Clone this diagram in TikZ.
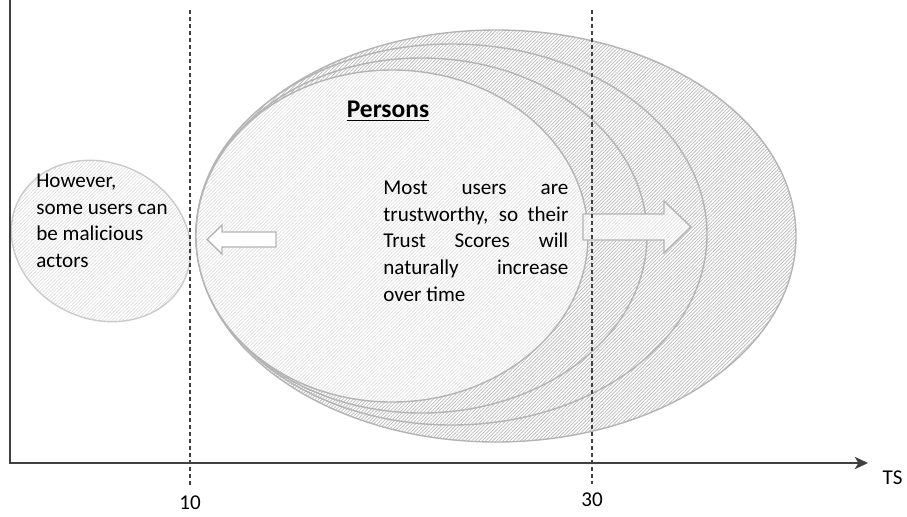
\documentclass[tikz,border=0pt]{standalone}
\usepackage{fontspec}
\setmainfont{Carlito}
\usetikzlibrary{patterns.meta,arrows.meta}
\definecolor{axisgray}{HTML}{404040}
\definecolor{rimgray}{HTML}{B4B4B4}
\newcommand{\jline}[1]{\makebox[3.7cm][s]{#1}}

\begin{document}
\begin{tikzpicture}[
      font=\fontsize{12}{15.1}\selectfont,
      ring/.style={draw=rimgray,line width=0.8pt,preaction={fill=white},
        pattern={Lines[angle=45,distance=1.4pt,line width=0.4pt]},pattern color=gray!55},
      core/.style={draw=rimgray,line width=0.8pt,preaction={fill=white},
        pattern={Lines[angle=45,distance=1.4pt,line width=0.3pt]},pattern color=gray!30},
      axis/.style={draw=axisgray,line width=1.1pt,-{Stealth[length=7.5pt,width=7pt,inset=2pt]}},
      guide/.style={draw=axisgray,line width=0.7pt,dash pattern=on 2.3pt off 1.7pt}]
      \useasboundingbox (0,0) rectangle (18.14,10.32);
      % rings of trust scores
      \filldraw[ring] (9.92,5.60) ellipse (6.00 and 4.12);
      \filldraw[ring] (9.03,5.63) ellipse (5.11 and 3.81);
      \filldraw[ring] (8.43,5.61) ellipse (4.51 and 3.55);
      \filldraw[core] (7.84,5.60) ellipse (3.92 and 3.32);
      \filldraw[core,draw=rimgray!70] (2.02,5.50) ellipse[x radius=1.84,y radius=1.56,rotate=-25];
      % block arrows
      \filldraw[draw=rimgray,fill=white,line width=0.8pt]
        (5.52,5.68) -- (4.44,5.68) -- (4.44,5.82) -- (4.14,5.53)
        -- (4.44,5.24) -- (4.44,5.38) -- (5.52,5.38) -- cycle;
      \filldraw[core,line width=0.8pt]
        (11.66,6.04) -- (13.28,6.04) -- (13.28,6.30) -- (13.82,5.78)
        -- (13.28,5.26) -- (13.28,5.52) -- (11.66,5.52) -- cycle;
      % axes
      \coordinate (ytop) at (0.2,10.32);
      \coordinate (o) at (0.2,1.06);
      \coordinate (xend) at (17.36,1.06);
      \draw[axis] (ytop) -- (o) -- (xend);
      \node (ts) at (17.85,0.76) {TS};
      % thresholds
      \coordinate (t10top) at (3.8,10.12);
      \coordinate (t10bot) at (3.8,0.60);
      \coordinate (t30top) at (11.84,10.12);
      \coordinate (t30bot) at (11.84,0.64);
      \draw[guide] (t10top) -- (t10bot);
      \draw[guide] (t30top) -- (t30bot);
      \node (l10) at (3.8,0.26) {10};
      \node (l30) at (11.84,0.32) {30};
      % texts
      \node[font=\fontsize{14.5}{17}\selectfont] (persons) at (7.76,8.10) {\underline{\textbf{Persons}}};
      \node[anchor=north west,inner sep=0pt,align=left] (most) at (7.66,6.70)
        {\jline{Most users are}\\ \jline{trustworthy, so their}\\
         \jline{Trust Scores will}\\ \jline{naturally increase}\\ over time};
      \node[anchor=north west,inner sep=0pt,align=left] (malicious) at (0.72,6.84)
        {However,\\ some users can\\ be malicious\\ actors};
     \end{tikzpicture}
\end{document}
